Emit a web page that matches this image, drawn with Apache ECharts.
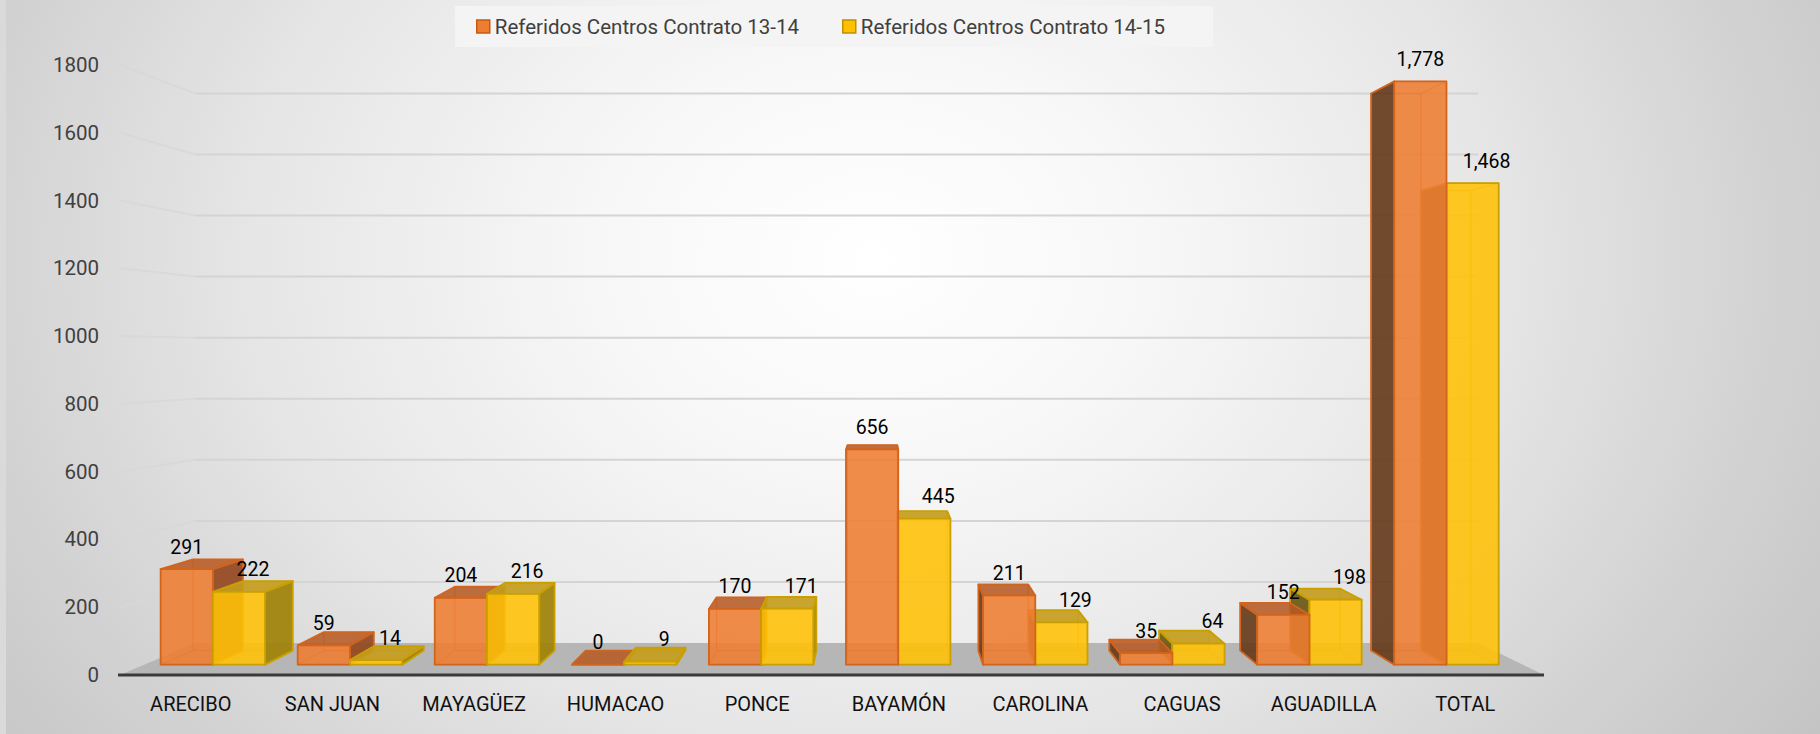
<!DOCTYPE html>
<html>
<head>
<meta charset="utf-8">
<script src="https://cdn.jsdelivr.net/npm/echarts@6/dist/echarts.min.js"></script>
<style>
html, body { margin: 0; padding: 0; background: #c8c8c8; }
#wrap { position: relative; width: 1820px; height: 734px; overflow: hidden;
  background: radial-gradient(ellipse 62% 120% at 48% 35%, #ffffff 0%, #f7f7f7 25%, #e6e6e6 55%, #d2d2d2 80%, #c4c4c4 100%); }
#edge { position: absolute; left: 0; top: 0; width: 6px; height: 734px; background: #dadada; }
#chart { position: absolute; left: 0; top: 0; width: 1820px; height: 734px; }
</style>
</head>
<body>
<div id="wrap"><div id="edge"></div><div id="chart"></div></div>
<script>
// ---------------- data ----------------
const categories = ['ARECIBO', 'SAN JUAN', 'MAYAGÜEZ', 'HUMACAO', 'PONCE', 'BAYAMÓN', 'CAROLINA', 'CAGUAS', 'AGUADILLA', 'TOTAL'];
const contrato1314 = [291, 59, 204, 0, 170, 656, 211, 35, 152, 1778];
const contrato1415 = [222, 14, 216, 9, 171, 445, 129, 64, 198, 1468];
const yTicks = [0, 200, 400, 600, 800, 1000, 1200, 1400, 1600, 1800];
const seriesNames = ['Referidos Centros Contrato 13-14', 'Referidos Centros Contrato 14-15'];

// ---------------- style / pseudo-3D settings ----------------
const FONT = 'Roboto, "Liberation Sans", Arial, sans-serif';
const VP = [880, 352];          // vanishing point
const D0 = 0.032;               // depth of the bar fronts
const DB = 0.045;               // bar depth
const D1 = 1 - (1 - D0) * (1 - DB);
const DW = 0.099;               // depth of the back wall
const BAR_FRAC = 0.381;         // bar width as fraction of category band

const palette = [
  { front: 'rgba(237,125,49,0.86)', top: 'rgba(181,90,36,0.86)', sideR: 'rgba(145,70,30,0.9)', sideL: 'rgba(100,58,28,0.9)', hidden: 'rgba(237,125,49,0.12)', edge: '#D2641C', edgeHidden: 'rgba(210,100,28,0.45)', legend: '#ED7D31', legendBorder: '#C55A11' },
  { front: 'rgba(255,193,7,0.87)', top: 'rgba(196,156,28,0.9)', sideR: 'rgba(158,130,10,0.92)', sideL: 'rgba(105,88,20,0.92)', hidden: 'rgba(255,193,7,0.12)', edge: '#C9A000', edgeHidden: 'rgba(201,160,0,0.45)', legend: '#FFC000', legendBorder: '#BF9000' }
];

function proj(x, y, d) { return [x + d * (VP[0] - x), y + d * (VP[1] - y)]; }

function poly(points, fill, stroke, lw, z2) {
  return { type: 'polygon', shape: { points: points }, z2: z2,
    style: { fill: fill, stroke: stroke, lineWidth: lw, lineJoin: 'round' } };
}

function renderBox(params, api, si) {
  const i = api.value(0), v = api.value(1);
  const base = api.coord([i, 0]);
  const topPt = api.coord([i, v]);
  const band = api.size([1, 0])[0];
  const w = band * BAR_FRAC;
  const c = base[0];
  const xl = si === 0 ? c - w : c;
  const xr = xl + w;
  const yb = base[1], yt = topPt[1];
  const p = palette[si];
  const F = [proj(xl, yt, D0), proj(xr, yt, D0), proj(xr, yb, D0), proj(xl, yb, D0)];
  const B = [proj(xl, yt, D1), proj(xr, yt, D1), proj(xr, yb, D1), proj(xl, yb, D1)];
  // drawing order between the two series of a category
  const first = c < VP[0] ? 0 : 1;
  const zb = (si === first) ? 0 : 20;
  const ch = [];
  ch.push(poly(B, p.hidden, p.edgeHidden, 1, zb + 1));
  ch.push(poly([F[3], F[2], B[2], B[3]], p.hidden, p.edgeHidden, 1, zb + 2));
  const leftVis = xl > VP[0];
  const rightVis = xr < VP[0];
  const leftFace = [F[0], B[0], B[3], F[3]];
  const rightFace = [F[1], B[1], B[2], F[2]];
  if (!leftVis) ch.push(poly(leftFace, p.hidden, p.edgeHidden, 1, zb + 3));
  if (!rightVis) ch.push(poly(rightFace, p.hidden, p.edgeHidden, 1, zb + 3));
  const topFace = [F[0], F[1], B[1], B[0]];
  const topVis = yt > VP[1];
  if (!topVis) ch.push(poly(topFace, p.hidden, p.edgeHidden, 1, zb + 4));
  if (leftVis) ch.push(poly(leftFace, p.sideL, p.edge, 1.8, zb + 5));
  if (rightVis) ch.push(poly(rightFace, p.sideR, p.edge, 1.8, zb + 5));
  if (topVis) ch.push(poly(topFace, p.top, p.edge, 1.8, zb + 6));
  ch.push(poly(F, p.front, p.edge, 1.8, zb + 7));
  const lx = (F[0][0] + F[1][0]) / 2 + (si === 1 ? 14 : 0);
  const ly = F[0][1] - 22;
  ch.push({ type: 'text', x: lx, y: ly, z2: 100,
    style: { text: v.toLocaleString('en-US'), fill: '#000000', fontSize: 19.5, fontFamily: FONT,
      align: 'center', verticalAlign: 'middle' } });
  return { type: 'group', children: ch };
}

function makeBarSeries(values, si) {
  return {
    type: 'custom', name: seriesNames[si], coordinateSystem: 'cartesian2d', z: 3,
    data: values.map((v, i) => [i, v]),
    encode: { x: 0, y: 1 },
    itemStyle: { color: palette[si].legend },
    renderItem: (params, api) => renderBox(params, api, si)
  };
}

const floorSeries = {
  type: 'custom', name: 'floor', coordinateSystem: 'cartesian2d', z: 1, silent: true,
  data: [[0, 0]], encode: { x: 0, y: 1 },
  renderItem: function (params, api) {
    const cs = params.coordSys;
    const y0 = api.coord([0, 0])[1];
    const x0 = cs.x, x1 = cs.x + cs.width + 8;
    return { type: 'group', children: [
      { type: 'polygon', shape: { points: [[x0, y0], [x1, y0], proj(x1, y0, DW), proj(x0, y0, DW)] },
        style: { fill: '#b6b6b6', stroke: 'none' } },
      { type: 'line', shape: { x1: x0 - 2, y1: y0, x2: x1, y2: y0 },
        style: { stroke: '#3a3a3a', lineWidth: 3 } }
    ] };
  }
};

const gridSeries = {
  type: 'custom', name: 'grid', coordinateSystem: 'cartesian2d', z: 1, silent: true,
  data: yTicks.filter(v => v > 0).map(v => [0, v]), encode: { x: 0, y: 1 },
  renderItem: function (params, api) {
    const cs = params.coordSys;
    const y0 = api.coord([0, api.value(1)])[1];
    const x0 = cs.x, x1 = cs.x + cs.width + 8;
    const bl = proj(x0, y0, DW), br = proj(x1, y0, DW);
    return { type: 'group', children: [
      { type: 'line', shape: { x1: x0, y1: y0, x2: bl[0], y2: bl[1] },
        style: { stroke: 'rgba(215,215,215,0.75)', lineWidth: 2 } },
      { type: 'line', shape: { x1: bl[0], y1: bl[1], x2: br[0], y2: br[1] },
        style: { stroke: '#d4d4d4', lineWidth: 2 } }
    ] };
  }
};

const chart = echarts.init(document.getElementById('chart'), null, { renderer: 'svg' });
chart.setOption({
  animation: false,
  backgroundColor: 'transparent',
  legend: {
    data: seriesNames.map((n, si) => ({ name: n, itemStyle: { color: palette[si].legend, borderColor: palette[si].legendBorder, borderWidth: 1.5 } })),
    left: 455, top: 6, icon: 'rect', itemWidth: 13, itemHeight: 13, itemGap: 43,
    padding: [10, 48, 10, 21], backgroundColor: '#f4f4f4',
    textStyle: { fontFamily: FONT, fontSize: 20.5, color: '#404040', lineHeight: 20 }
  },
  grid: { left: 120, right: 284, top: 65, bottom: 59, containLabel: false },
  xAxis: {
    type: 'category', data: categories,
    axisLine: { show: false }, axisTick: { show: false }, splitLine: { show: false },
    axisLabel: { margin: 19, color: '#111111', fontFamily: FONT, fontSize: 20, interval: 0 }
  },
  yAxis: {
    type: 'value', min: 0, max: 1800, interval: 200,
    axisLine: { show: false }, axisTick: { show: false }, splitLine: { show: false },
    axisLabel: { margin: 21, color: '#404040', fontFamily: FONT, fontSize: 20.5, formatter: (val) => String(val) }
  },
  series: [floorSeries, gridSeries, makeBarSeries(contrato1314, 0), makeBarSeries(contrato1415, 1)]
});
</script>
</body>
</html>
